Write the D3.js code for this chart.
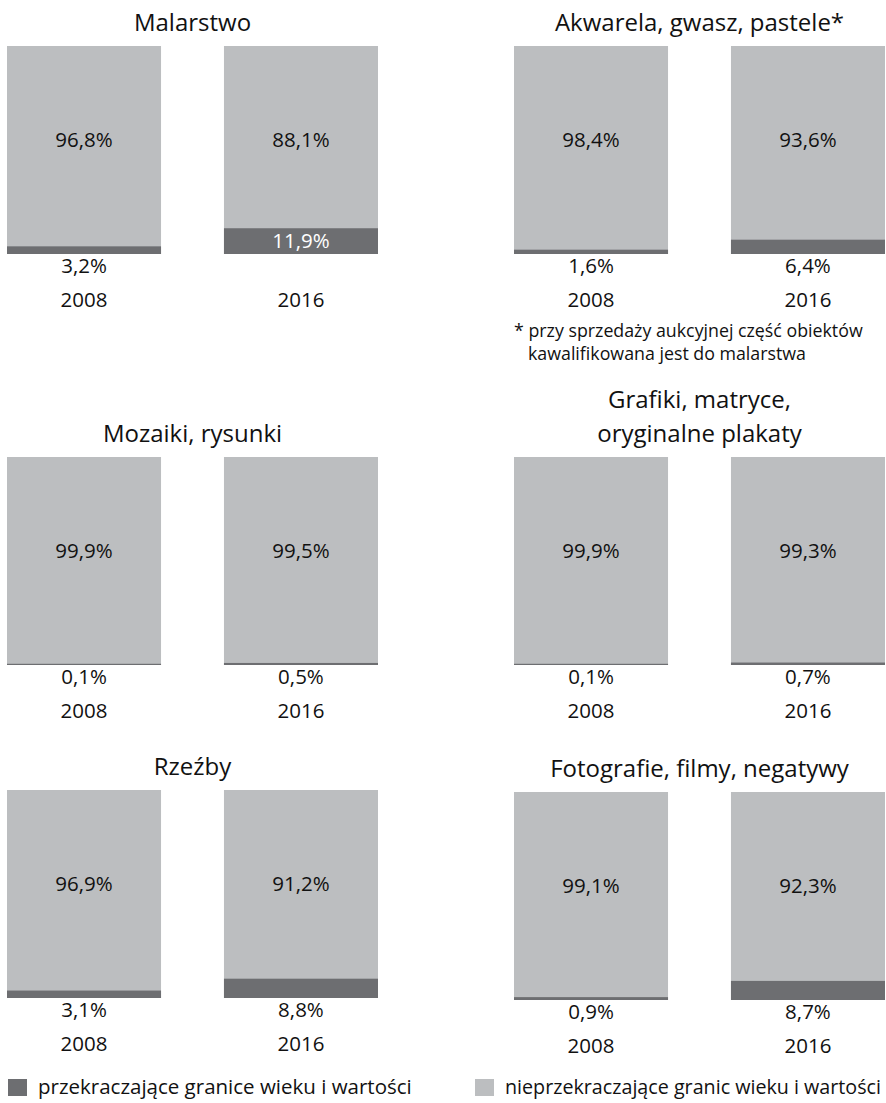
<!DOCTYPE html>
<html>
<head>
<meta charset="utf-8">
<script src="https://cdn.jsdelivr.net/npm/d3@7"></script>
<style>
  body { margin: 0; background: #fff; }
  text { font-family: "Open Sans", "Noto Sans", sans-serif; fill: #111; }
</style>
</head>
<body>
<div id="chart"></div>
<script>
// Stacked 100% bars, six small panels

// Data
// ==============================
var categories = [
  "Malarstwo",
  "Akwarela, gwasz, pastele*",
  "Mozaiki, rysunki",
  "Grafiki, matryce,|oryginalne plakaty",
  "Rzeźby",
  "Fotografie, filmy, negatywy"
];
var years = ["2008", "2016"];
// przekraczające granice wieku i wartości (%)
var over2008 = [3.2, 1.6, 0.1, 0.1, 3.1, 0.9];
var over2016 = [11.9, 6.4, 0.5, 0.7, 8.8, 8.7];
// nieprzekraczające granic wieku i wartości (%)
var under2008 = [96.8, 98.4, 99.9, 99.9, 96.9, 99.1];
var under2016 = [88.1, 93.6, 99.5, 99.3, 91.2, 92.3];
var legendLabels = [
  "przekraczające granice wieku i wartości",
  "nieprzekraczające granic wieku i wartości"
];
var footnote = [
  "* przy sprzedaży aukcyjnej część obiektów",
  "kawalifikowana jest do malarstwa"
];

// Housekeeping
// ==============================
var width = 886;
var height = 1103;
var darkColor = "#6d6e71";
var lightColor = "#bcbec0";

var panelW = 371;
var barH = 208;
var colX = [7, 514];
var rowTop = [46, 457, 790];

var fmt = function(v) { return d3.format(".1f")(v).replace(".", ",") + "%"; };

var svg = d3.select("#chart")
  .append("svg")
  .attr("width", width)
  .attr("height", height);

var x = d3.scaleBand()
  .domain(years)
  .range([0, panelW])
  .paddingInner(0.29)
  .paddingOuter(0);

var y = d3.scaleLinear()
  .domain([0, 100])
  .range([barH, 0]);

// dark segment gets one extra pixel so tiny shares still show
function darkH(v) { return y(0) - y(v) + 1; }

// Panels
// ==============================
categories.forEach(function(cat, i) {
  var col = i % 2;
  var row = Math.floor(i / 2);
  // last right panel sits a hair lower in the original
  var top = rowTop[row] + (i === 5 ? 2 : 0);

  var g = svg.append("g")
    .attr("transform", "translate(" + colX[col] + "," + top + ")");

  // title (may be two lines)
  var lines = cat.split("|");
  lines.forEach(function(line, k) {
    g.append("text")
      .attr("x", panelW / 2)
      .attr("y", -15 - (lines.length - 1 - k) * 34)
      .attr("text-anchor", "middle")
      .style("font-size", "24px")
      .text(line);
  });

  var rows = [
    { year: years[0], over: over2008[i], under: under2008[i] },
    { year: years[1], over: over2016[i], under: under2016[i] }
  ];

  var bar = g.selectAll(".bar")
    .data(rows)
    .enter()
    .append("g")
    .attr("class", "bar")
    .attr("transform", function(d) { return "translate(" + x(d.year) + ",0)"; });

  // light part, full height underneath
  bar.append("rect")
    .attr("x", 0)
    .attr("y", y(100))
    .attr("width", x.bandwidth())
    .attr("height", y(0) - y(100))
    .attr("fill", lightColor);

  // dark part on the bottom
  bar.append("rect")
    .attr("x", 0)
    .attr("y", function(d) { return y(0) - darkH(d.over); })
    .attr("width", x.bandwidth())
    .attr("height", function(d) { return darkH(d.over); })
    .attr("fill", darkColor);

  // value of the light part
  bar.append("text")
    .attr("x", x.bandwidth() / 2)
    .attr("y", y(50) - 3)
    .attr("text-anchor", "middle")
    .style("font-size", "20.5px")
    .text(function(d) { return fmt(d.under); });

  // value of the dark part: inside when there is room
  bar.append("text")
    .attr("x", x.bandwidth() / 2)
    .attr("y", function(d) { return d.over > 10 ? y(0) - 6 : y(0) + 19; })
    .attr("text-anchor", "middle")
    .style("font-size", "20.5px")
    .style("fill", function(d) { return d.over > 10 ? "#fff" : "#111"; })
    .text(function(d) { return fmt(d.over); });

  // year
  bar.append("text")
    .attr("x", x.bandwidth() / 2)
    .attr("y", y(0) + 53)
    .attr("text-anchor", "middle")
    .style("font-size", "20.5px")
    .text(function(d) { return d.year; });
});

// Footnote under Akwarela
svg.append("text")
  .attr("x", 514)
  .attr("y", 337)
  .style("font-size", "17.8px")
  .text(footnote[0]);
svg.append("text")
  .attr("x", 528)
  .attr("y", 360)
  .style("font-size", "17.8px")
  .text(footnote[1]);

// Legend
// ==============================
var legendX = [8, 475];
var legendMaxW = [376, 376];

var legend = svg.selectAll(".legend")
  .data(legendLabels)
  .enter()
  .append("g")
  .attr("class", "legend")
  .attr("transform", function(d, i) { return "translate(" + legendX[i] + ",1079)"; });

legend.append("rect")
  .attr("width", 19)
  .attr("height", 17)
  .attr("fill", function(d, i) { return i === 0 ? darkColor : lightColor; });

legend.append("text")
  .attr("x", 30)
  .attr("y", 15)
  .style("font-size", "20.5px")
  .text(function(d) { return d; })
  .each(function(d, i) {
    // shrink the label until it fits the width it has in the original
    var w = this.getComputedTextLength();
    if (w > legendMaxW[i]) {
      d3.select(this).style("font-size", (20.5 * legendMaxW[i] / w).toFixed(2) + "px");
    }
  });
</script>
</body>
</html>
